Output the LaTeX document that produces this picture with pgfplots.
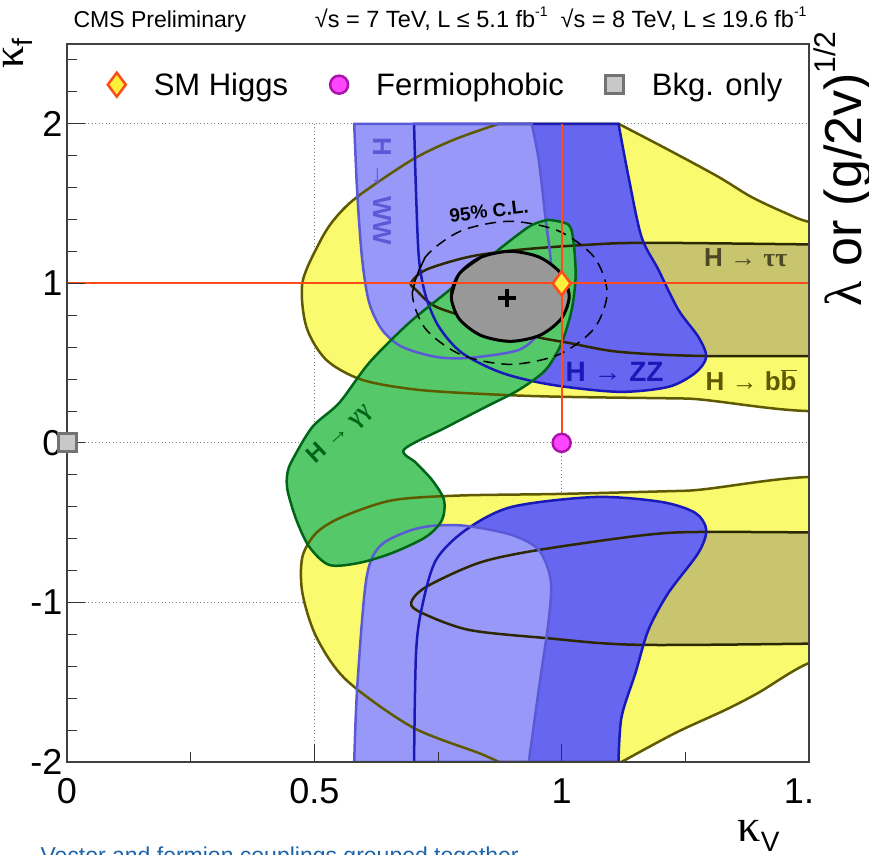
\documentclass[border=0pt]{standalone}
\usepackage{pgfplots}
\pgfplotsset{compat=1.18}
\usepackage{pgfplotstable}
\usepackage{fontspec}
\setmainfont{Liberation Sans}
\newfontfamily\grk{Liberation Serif}

\definecolor{ybb}{RGB}{250,250,110}
\definecolor{ybbline}{RGB}{95,90,0}
\definecolor{tautau}{RGB}{200,197,110}
\definecolor{tauline}{RGB}{45,40,0}
\definecolor{wwfill}{RGB}{152,152,248}
\definecolor{wwline}{RGB}{90,90,215}
\definecolor{zzfill}{RGB}{102,102,240}
\definecolor{zzline}{RGB}{25,25,185}
\definecolor{ggfill}{RGB}{85,200,105}
\definecolor{ggline}{RGB}{0,100,25}
\definecolor{bfgray}{RGB}{152,152,152}
\definecolor{smred}{RGB}{255,75,25}
\definecolor{smyel}{RGB}{255,240,60}
\definecolor{fpfill}{RGB}{255,70,255}
\definecolor{fpline}{RGB}{170,20,170}
\definecolor{bkfill}{RGB}{200,200,200}
\definecolor{bkline}{RGB}{115,115,115}
\definecolor{capblue}{RGB}{30,100,170}

% H -> bb, upper and lower 68% regions
\pgfplotstableread{
x y
0.873 2.0
0.782 1.90
0.6976 1.774
0.5867 1.542
0.540 1.40
0.5101 1.254
0.4758 1.003
0.4839 0.727
0.5242 0.520
0.5968 0.395
0.7117 0.332
0.8790 0.301
1.0141 0.288
1.25 0.278
1.60 0.26
1.60 1.33
1.50 1.385
1.4516 1.442
1.3831 1.542
1.3165 1.668
1.2157 1.837
1.1149 2.0
}\bbup
\pgfplotstableread{
x y
0.873 -2.0
0.8327 -1.944
0.6976 -1.781
0.5645 -1.486
0.5040 -1.216
0.4758 -0.940
0.4758 -0.715
0.5040 -0.564
0.5565 -0.464
0.6573 -0.360
0.7923 -0.330
0.9940 -0.320
1.25 -0.300
1.60 -0.27
1.60 -1.33
1.50 -1.38
1.3972 -1.567
1.3306 -1.674
1.2298 -1.818
1.1210 -2.0
}\bbdn
% H -> tautau
\pgfplotstableread{
x y
1.60 1.240
1.1815 1.254
1.0484 1.241
0.9133 1.210
0.8125 1.166
0.7258 1.085
0.6956 1.003
0.7056 0.959
0.7460 0.853
0.8468 0.752
0.9476 0.665
1.0141 0.627
1.1149 0.571
1.2823 0.545
1.60 0.545
}\ttup
\pgfplotstableread{
x y
1.60 -0.564
1.2903 -0.558
1.1694 -0.577
0.9536 -0.671
0.8327 -0.752
0.7258 -0.903
0.6956 -1.003
0.7177 -1.066
0.8125 -1.172
0.9677 -1.223
1.1613 -1.266
1.60 -1.254
}\ttdn
% H -> WW
\pgfplotstableread{
x y
0.5806 2.0
0.5867 1.567
0.5968 1.147
0.6109 0.878
0.6371 0.708
0.6774 0.602
0.7460 0.539
0.8125 0.533
0.9133 0.583
0.9597 0.708
0.9798 0.878
0.9778 1.147
0.9677 1.398
0.9536 1.774
0.9395 2.0
}\wwup
\pgfplotstableread{
x y
0.5806 -2.0
0.5867 -1.530
0.6048 -0.859
0.6310 -0.652
0.6855 -0.558
0.7379 -0.520
0.8065 -0.520
0.8992 -0.577
0.9536 -0.671
0.9778 -0.859
0.9738 -1.110
0.9545 -1.527
0.9335 -2.0
}\wwdn
% H -> ZZ
\pgfplotstableread{
x y
0.7016 2.0
0.7056 1.567
0.7117 1.147
0.7258 0.915
0.7520 0.727
0.7984 0.564
0.8790 0.439
0.9798 0.364
1.1149 0.320
1.2157 0.351
1.2702 0.439
1.2923 0.539
1.2762 0.665
1.2359 0.834
1.1956 1.085
1.1613 1.292
1.1351 1.668
1.1149 2.0
}\zzup
\pgfplotstableread{
x y
0.7016 -2.0
0.7056 -1.317
0.7177 -1.028
0.7460 -0.734
0.8065 -0.545
0.8992 -0.401
1.0685 -0.339
1.2016 -0.370
1.2702 -0.439
1.2923 -0.545
1.2762 -0.690
1.2157 -0.940
1.1754 -1.172
1.1492 -1.442
1.1210 -1.718
1.1149 -2.0
}\zzdn
% H -> gamma gamma
\pgfplotstableread{
x y
0.9738 1.398
1.0141 1.367
1.0242 1.254
1.0282 1.041
1.0202 0.834
1.0000 0.627
0.9677 0.458
0.9133 0.332
0.8468 0.226
0.7661 0.097
0.6815 -0.041
0.7056 -0.125
0.7379 -0.232
0.7621 -0.357
0.7581 -0.483
0.7258 -0.589
0.6573 -0.690
0.5907 -0.752
0.5302 -0.765
0.4899 -0.652
0.4637 -0.483
0.4456 -0.295
0.4456 -0.188
0.4556 -0.107
0.4960 0.100
0.5504 0.251
0.6109 0.502
0.6915 0.752
0.7661 0.940
0.8468 1.147
0.9335 1.354
0.9738 1.398
}\gg
% combined 68% CL (best-fit region) and 95% CL
\pgfplotstableread{
x y
0.7768 0.9185
0.7929 1.0596
0.8364 1.1630
0.8960 1.2006
0.9556 1.1630
0.9990 1.0596
1.0152 0.9185
0.9990 0.7774
0.9556 0.6740
0.8960 0.6364
0.8364 0.6740
0.7929 0.7774
0.7768 0.9185
0.7929 1.0596
0.8364 1.1630
}\cl
\pgfplotstableread{
x y
0.6980 0.9404
0.7244 1.1646
0.7965 1.3285
0.8949 1.3887
0.9934 1.3285
1.0655 1.1646
1.0919 0.9404
1.0655 0.7163
0.9934 0.5524
0.8949 0.4922
0.7965 0.5524
0.7244 0.7163
0.6980 0.9404
0.7244 1.1646
}\clnf

\newcommand\sups[1]{\raisebox{0.5em}{\fontsize{14}{14}\selectfont #1}}

\begin{document}
\begin{tikzpicture}[x=1pt,y=1pt]
\begin{axis}[
  at={(67pt,92pt)}, anchor=south west,
  scale only axis, width=742pt, height=718pt,
  xmin=0, xmax=1.5, ymin=-2, ymax=2.5,
  xtick={0,0.5,1,1.5}, xticklabels={0,0.5,1,1.\phantom{5}},
  minor xtick={0.25,0.75,1.25},
  ytick={-2,-1,0,1,2}, yticklabels={-2,-1,0,1,2},
  minor ytick={-1.8,-1.6,-1.4,-1.2,-0.8,-0.6,-0.4,-0.2,0.2,0.4,0.6,0.8,1.2,1.4,1.6,1.8,2.2,2.4},
  tick align=inside, tick pos=left,
  major tick length=18pt, minor tick length=10pt,
  tick style={line width=0.9pt, black!80},
  axis line style={line width=1.2pt, black!75},
  ticklabel style={font=\fontsize{36}{40}\selectfont},
  xticklabel style={yshift=-13pt},
  yticklabel style={xshift=-1pt},
  axis on top,
  legend style={draw=none, fill=none, at={(axis cs:0.082,2.245)}, anchor=west,
    legend columns=3, font=\fontsize{31}{36}\selectfont, inner xsep=0pt, inner ysep=0pt,
    /tikz/every odd column/.append style={column sep=26pt},
    /tikz/every even column/.append style={column sep=40pt}},
]
% grid
\addplot[forget plot, gray, line width=1pt, dash pattern=on 1pt off 2.5pt] coordinates {(0.5,-2) (0.5,2)};
\addplot[forget plot, gray, line width=1pt, dash pattern=on 1pt off 2.5pt] coordinates {(1,-2) (1,2)};
\addplot[forget plot, gray, line width=1pt, dash pattern=on 1pt off 2.5pt] coordinates {(0,2) (1.5,2)};
\addplot[forget plot, gray, line width=1pt, dash pattern=on 1pt off 2.5pt] coordinates {(0,0) (1.5,0)};
\addplot[forget plot, gray, line width=1pt, dash pattern=on 1pt off 2.5pt] coordinates {(0,-1) (1.5,-1)};
% fills
\addplot[forget plot, smooth, fill=ybb, draw=none] table {\bbup} -- cycle;
\addplot[forget plot, smooth, fill=ybb, draw=none] table {\bbdn} -- cycle;
\addplot[forget plot, smooth, fill=tautau, draw=none] table {\ttup} -- cycle;
\addplot[forget plot, smooth, fill=tautau, draw=none] table {\ttdn} -- cycle;
\addplot[forget plot, smooth, fill=zzfill, draw=none] table {\zzup} -- cycle;
\addplot[forget plot, smooth, fill=zzfill, draw=none] table {\zzdn} -- cycle;
\addplot[forget plot, smooth, fill=wwfill, draw=none] table {\wwup} -- cycle;
\addplot[forget plot, smooth, fill=wwfill, draw=none] table {\wwdn} -- cycle;
\addplot[forget plot, smooth, fill=ggfill, draw=none] table {\gg} -- cycle;
% outlines
\addplot[forget plot, smooth, draw=ybbline, line width=2.5pt] table {\bbup} -- cycle;
\addplot[forget plot, smooth, draw=ybbline, line width=2.5pt] table {\bbdn} -- cycle;
\addplot[forget plot, smooth, draw=tauline, line width=2.5pt] table {\ttup} -- cycle;
\addplot[forget plot, smooth, draw=tauline, line width=2.5pt] table {\ttdn} -- cycle;
\addplot[forget plot, smooth, draw=zzline, line width=2.5pt] table {\zzup} -- cycle;
\addplot[forget plot, smooth, draw=zzline, line width=2.5pt] table {\zzdn} -- cycle;
\addplot[forget plot, smooth, draw=wwline, line width=2.5pt] table {\wwup} -- cycle;
\addplot[forget plot, smooth, draw=wwline, line width=2.5pt] table {\wwdn} -- cycle;
\addplot[forget plot, smooth, draw=ggline, line width=2.5pt] table {\gg} -- cycle;
% combined contours
\addplot[forget plot, smooth, fill=bfgray, draw=none] table {\cl};
\addplot[forget plot, smooth, draw=black, line width=3pt] table {\cl};
\addplot[forget plot, smooth, draw=black, line width=1.5pt, dash pattern=on 11pt off 7pt] table {\clnf};
\addplot[forget plot, only marks, mark=+, mark size=9pt, line width=4pt, black] coordinates {(0.889,0.909)};
% SM reference lines
\addplot[forget plot, smred, line width=2pt] coordinates {(0,1) (1.5,1)};
\addplot[forget plot, smred, line width=2pt] coordinates {(1,0) (1,2)};
% labels
\node[rotate=-90, text=wwline, font=\bfseries\fontsize{26}{28}\selectfont] at (axis cs:0.637,1.577) {H → WW};
\node[text=zzline, font=\bfseries\fontsize{28}{30}\selectfont] at (axis cs:1.107,0.442) {H → ZZ};
\node[text=tauline!85!white, font=\bfseries\fontsize{26}{28}\selectfont] at (axis cs:1.372,1.163) {H → {\grk ττ}};
\node[text=ybbline, font=\bfseries\fontsize{26}{28}\selectfont] at (axis cs:1.383,0.392) {H → b$\overline{\mbox{b}}$};
\node[rotate=43, text=ggline, font=\bfseries\fontsize{24}{26}\selectfont] at (axis cs:0.551,0.053) {H → {\grk γγ}};
\node[rotate=7, font=\bfseries\fontsize{19}{21}\selectfont] at (axis cs:0.853,1.452) {95\% C.L.};
% reference points
\addplot[only marks, mark=diamond*, mark size=12pt, mark options={fill=smyel, draw=smred, line width=2.5pt}] coordinates {(1,1)};
\addlegendentry{SM Higgs}
\addplot[only marks, mark=*, mark size=9pt, mark options={fill=fpfill, draw=fpline, line width=2.5pt}] coordinates {(1,0)};
\addlegendentry{Fermiophobic}
\addplot[only marks, mark=square*, mark size=9pt, mark options={fill=bkfill, draw=bkline, line width=3pt}] coordinates {(0,0)};
\addlegendentry{Bkg. only}
\end{axis}
\node[anchor=base west, font=\fontsize{23}{26}\selectfont] at (70pt,826pt) {CMS Preliminary};
\node[anchor=base east, font=\fontsize{23.5}{26}\selectfont] at (810pt,826pt) {√s = 7 TeV, L ≤ 5.1 fb\sups{-1}\ \ √s = 8 TeV, L ≤ 19.6 fb\sups{-1}};
\node[rotate=90, anchor=base east, font=\fontsize{52}{56}\selectfont] at (861pt,826pt) {{\grk λ} or (g/2v)\sups{\fontsize{30}{30}\selectfont 1/2}};
\node[rotate=90, anchor=base west, font=\fontsize{44}{48}\selectfont] at (23pt,782pt) {{\grk κ}\raisebox{-9pt}{\fontsize{28}{30}\selectfont f}};
\node[anchor=base east, font=\fontsize{46}{50}\selectfont] at (783pt,13pt) {{\grk κ}\raisebox{-10pt}{\fontsize{28}{30}\selectfont V}};
\node[anchor=base west, text=capblue, font=\fontsize{23}{26}\selectfont] at (37pt,-9pt) {Vector and fermion couplings grouped together};
\pgfresetboundingbox
\useasboundingbox (0pt,0pt) rectangle (869pt,854pt);
\end{tikzpicture}
\end{document}
